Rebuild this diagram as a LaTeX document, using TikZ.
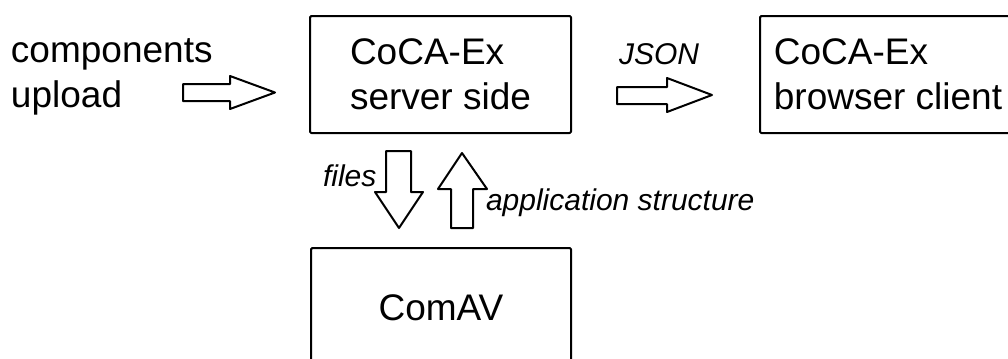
\documentclass[tikz,border=0pt]{standalone}
\usepackage{fontspec}
\setmainfont{Liberation Sans}
\begin{document}
\begin{tikzpicture}[x=0.75pt,y=-0.75pt,
  line width=1.5pt, line join=round,
  box/.style={draw, rounded corners=1pt, inner sep=0pt, anchor=north west, align=left,
    font=\fontsize{27.75}{33.75}\selectfont},
  maintext/.style={inner sep=0pt, anchor=base west, align=left,
    font=\fontsize{27.75}{33.75}\selectfont},
  lbl/.style={inner sep=0pt, anchor=base west, font=\fontsize{22.5}{27}\selectfont\itshape},
  blockarrow/.style={draw, fill=white, line width=1.5pt, line join=round}]
\useasboundingbox (0,0) rectangle (1008,358);
\clip (0,0) rectangle (1008,358);
% boxes
\node[box, minimum width=195.75pt, minimum height=87.75pt] (srv) at (309,15) {CoCA-Ex\\server side};
\node[box, minimum width=192pt, minimum height=87.75pt] (brw) at (759,15) {CoCA-Ex\\browser client};
\node[box, minimum width=195pt, minimum height=89.25pt] (cav) at (310,247) {ComAV};
% texts
\node[maintext] (comp) at (10,107) {components\\upload};
\node[lbl] (json) at (618,64) {JSON};
\node[lbl] (files) at (322,186) {files};
\node[lbl] (app) at (485,210) {application structure};
% block arrows
\draw[blockarrow] (183,84) -- (230,84) -- (230,76) -- (275,92.5) -- (230,109) -- (230,101) -- (183,101) -- cycle;
\draw[blockarrow] (617,87) -- (667,87) -- (667,78) -- (712,95) -- (667,112) -- (667,104) -- (617,104) -- cycle;
\draw[blockarrow] (386,151) -- (411,151) -- (411,192) -- (423,192) -- (399,228) -- (375,192) -- (386,192) -- cycle;
\draw[blockarrow] (451,228) -- (473,228) -- (473,189) -- (487,189) -- (462,153) -- (438,189) -- (451,189) -- cycle;
\end{tikzpicture}
\end{document}
